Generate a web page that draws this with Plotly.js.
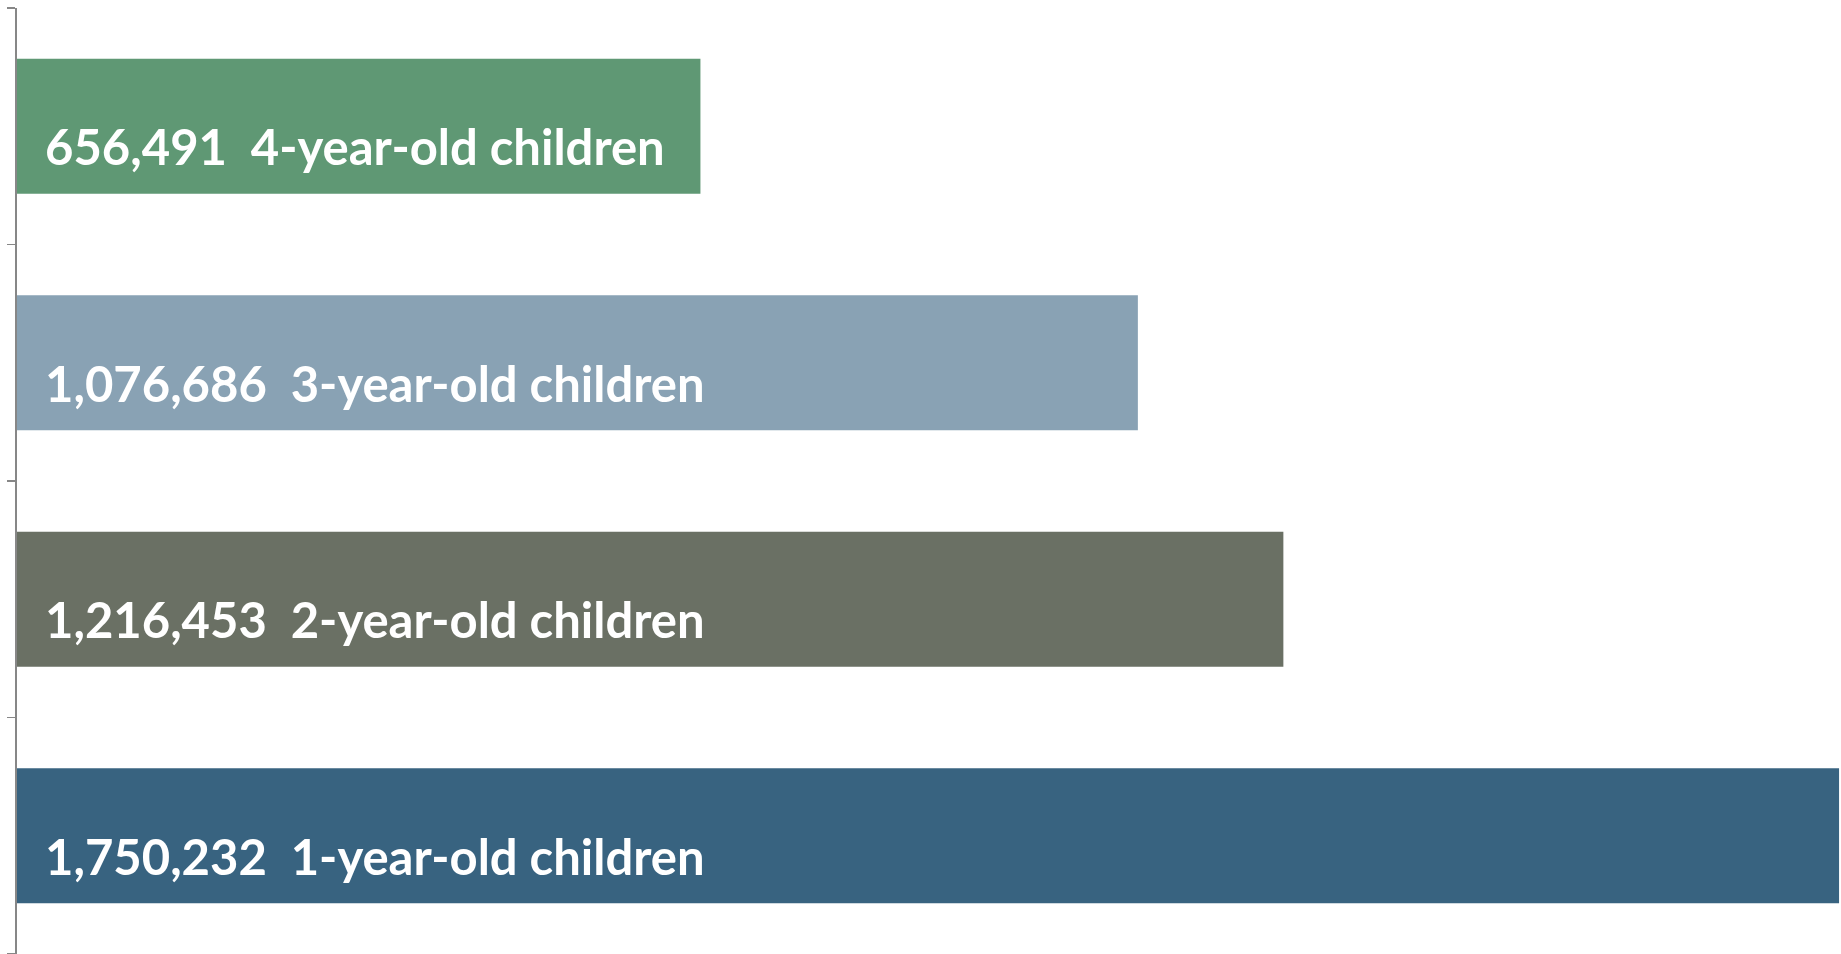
<!DOCTYPE html>
<html>
<head>
<meta charset="utf-8">
<script src="https://cdn.plot.ly/plotly-3.0.1.min.js"></script>
<style>html,body{margin:0;padding:0;background:#fff;}#chart{width:1841px;height:954px;}</style>
</head>
<body>
<div id="chart"></div>
<script>
// Data (bottom to top)
const categories = ['1-year-old children', '2-year-old children', '3-year-old children', '4-year-old children'];
const values = [1750232, 1216453, 1076686, 656491];
const barColors = ['#386380', '#6A7064', '#89A2B4', '#5F9874'];

const fmt = v => v.toLocaleString('en-US');
const labels = categories.map((c, i) => fmt(values[i]) + '\u00a0\u00a0' + c);

const trace = {
  type: 'bar',
  orientation: 'h',
  x: values,
  y: categories,
  marker: { color: barColors, line: { width: 0 } },
  hoverinfo: 'none'
};

const annotations = categories.map((c, i) => ({
  x: 0, y: c, xref: 'x', yref: 'y',
  text: labels[i],
  showarrow: false,
  xanchor: 'left', yanchor: 'middle',
  xshift: 26, yshift: -20,
  font: { family: 'Lato, "Open Sans", sans-serif', size: 49, color: '#ffffff', weight: 700 }
}));

const layout = {
  width: 1841, height: 954,
  margin: { l: 17, r: 0, t: 8, b: 0, pad: 0 },
  paper_bgcolor: '#ffffff', plot_bgcolor: '#ffffff',
  showlegend: false,
  bargap: 0.43,
  xaxis: { range: [0, 1752100], showgrid: false, zeroline: false, showline: false, showticklabels: false, ticks: '' },
  yaxis: {
    type: 'category', range: [-0.5, 3.5],
    showline: true, linecolor: '#878787', linewidth: 2,
    ticks: 'outside', tickson: 'boundaries', ticklen: 8, tickwidth: 1.5, tickcolor: '#878787',
    showticklabels: false, showgrid: false, zeroline: false
  },
  annotations: annotations
};

Plotly.newPlot('chart', [trace], layout, { displayModeBar: false, staticPlot: true });
</script>
</body>
</html>
